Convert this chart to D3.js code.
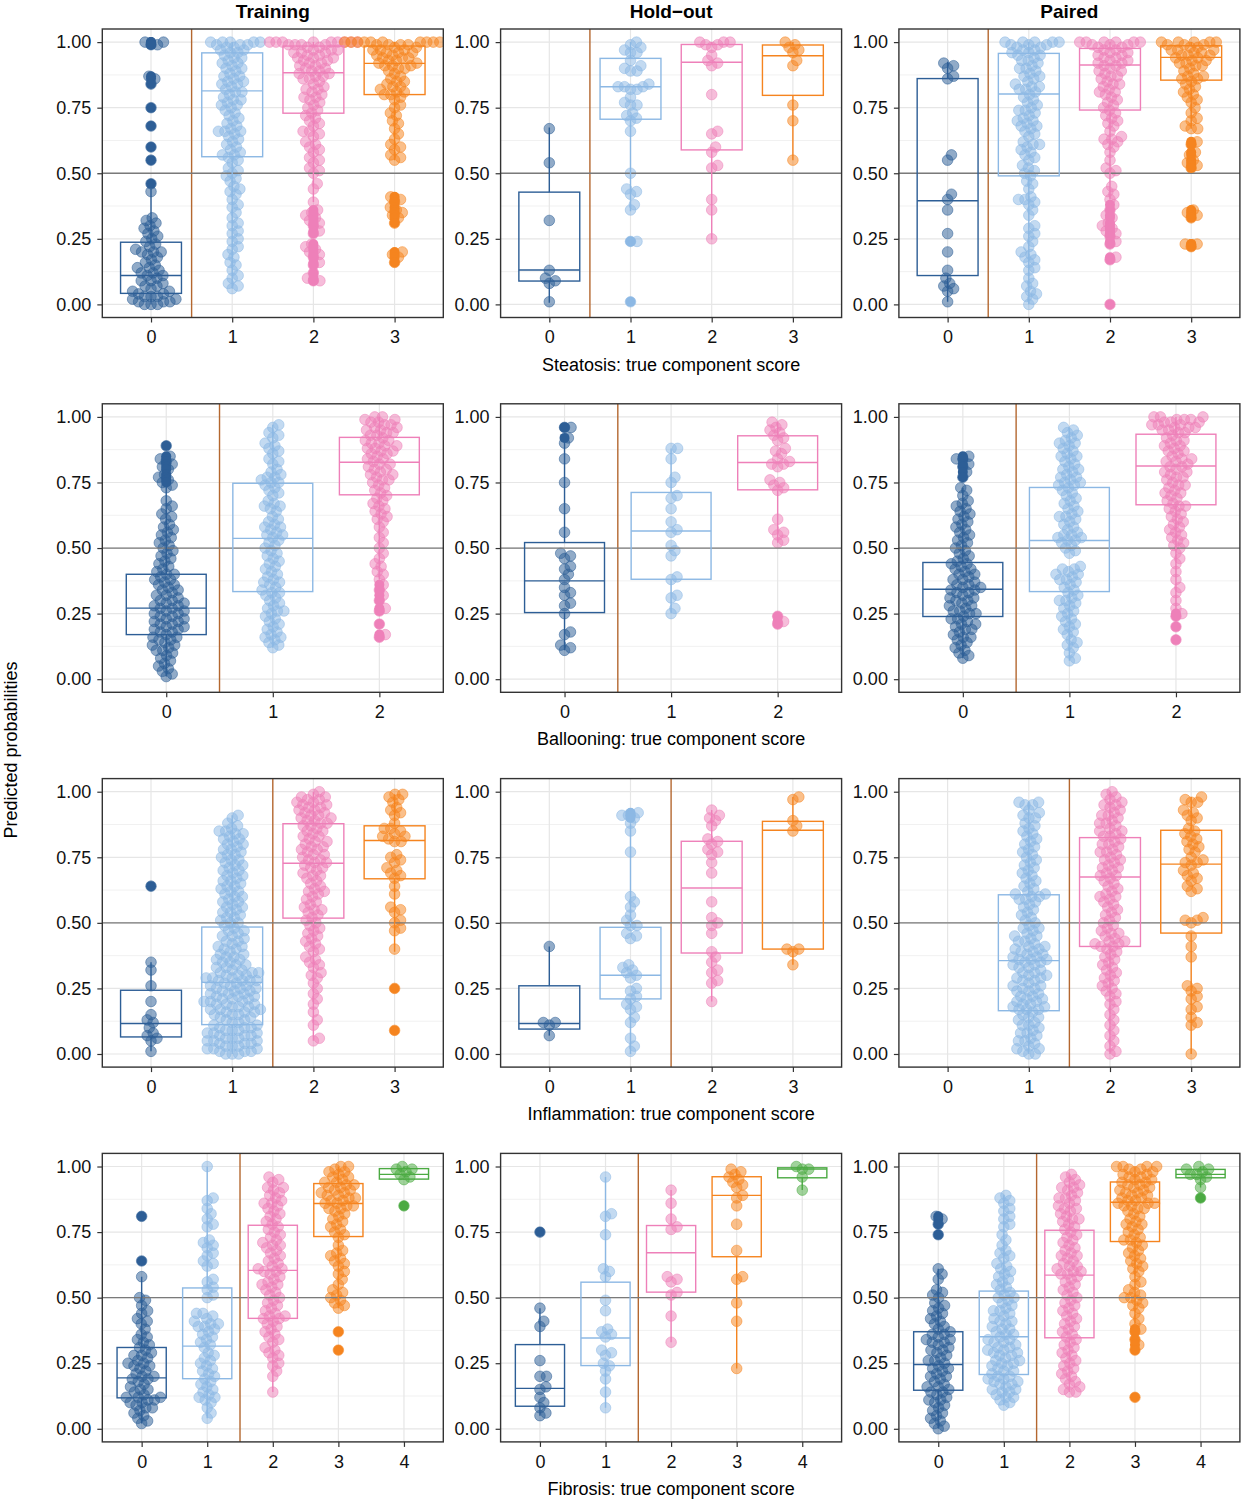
<!DOCTYPE html>
<html><head><meta charset="utf-8">
<script src="https://cdn.jsdelivr.net/npm/d3@7"></script>
<style>body{margin:0;background:#fff}</style>
</head><body>
<svg id="chart" width="1241" height="1500"></svg>
<script>
// ---------- DATA (predicted probabilities, in hundredths) ----------
const rowTitles = ["Steatosis: true component score","Ballooning: true component score","Inflammation: true component score","Fibrosis: true component score"];
const colTitles = ["Training","Hold\u2212out","Paired"];
const rowCats = [["0","1","2","3"],["0","1","2"],["0","1","2","3"],["0","1","2","3","4"]];
const rowSep = [0.5,0.5,1.5,1.5];
const yTicks = [0,0.25,0.5,0.75,1];
const yMinor = [0.125,0.375,0.625,0.875];

// Steatosis
const steatTrain0 = [100,100,99,99,87,86,84,75,68,60,55,46,43,33,32,31,30,29,28,27,26,25,24,23,22,21,20,20,20,19,18,17,16,15,14,14,13,12,12,11,11,10,9,9,8,7,7,6,5,5,4,4,3,3,3,2,2,1,1,1,0,0,0];
const steatTrain1 = [100,100,100,100,100,99,99,99,98,98,97,97,96,96,95,94,94,93,92,92,91,90,90,89,88,87,87,86,85,85,84,84,83,82,81,81,80,79,78,78,77,76,76,75,74,73,72,71,70,69,68,67,66,66,66,65,64,63,62,61,60,59,58,57,57,56,55,54,52,51,50,49,48,47,45,44,43,42,40,38,37,35,33,31,30,28,27,25,24,22,21,19,18,16,15,13,11,10,8,7,6];
const steatTrain2 = [100,100,100,100,100,100,100,100,100,99,99,99,99,98,98,97,97,97,96,96,96,95,95,94,94,94,93,93,92,92,91,91,90,90,89,89,88,88,87,87,86,86,85,84,83,82,82,81,80,79,79,78,77,76,75,74,73,72,71,70,69,68,66,66,65,64,62,61,60,59,58,56,55,54,52,51,50,46,44,39,36,35,34,33,32,31,30,28,27,23,22,21,20,19,18,16,15,12,10,9,9];
const steatTrain3 = [100,100,100,100,100,100,100,100,100,100,99,99,99,99,98,98,97,97,97,96,96,96,95,95,94,94,94,93,93,92,92,91,91,91,90,90,89,88,87,86,85,85,84,83,83,82,81,81,80,80,79,78,76,75,73,72,70,69,67,65,63,61,60,59,57,56,55,41,40,39,37,36,35,34,33,31,20,19,18,16];
const steatHold0 = [67,54,32,13,10,9,8,1];
const steatHold1 = [100,99,98,97,96,96,93,91,90,89,89,84,83,83,83,82,82,79,77,76,76,73,72,71,70,66,50,44,43,42,38,36,24,24,1];
const steatHold2 = [100,100,100,99,99,98,95,93,92,91,80,66,65,60,58,53,52,40,36,25];
const steatHold3 = [100,99,98,97,96,93,91,76,70,55];
const steatPair0 = [92,91,90,87,86,57,55,42,40,36,27,20,13,10,8,7,6,5,1];
const steatPair1 = [100,100,100,100,100,99,99,99,98,98,97,97,96,96,95,95,94,93,93,92,91,90,90,89,88,87,87,86,85,84,83,83,82,82,81,80,79,78,77,76,75,74,74,73,72,71,70,70,69,68,68,67,66,65,64,62,61,61,60,59,58,57,56,55,53,52,51,50,49,47,46,44,41,40,40,39,38,36,34,30,29,27,26,24,22,20,19,18,17,16,14,13,10,8,7,5,4,3,2,0];
const steatPair2 = [100,100,100,100,100,100,99,99,99,98,98,97,97,96,96,95,95,94,94,93,93,92,92,91,91,90,89,89,88,87,87,86,85,84,84,83,82,81,81,80,79,78,77,76,75,74,73,72,71,70,69,68,66,64,63,63,62,61,60,58,55,52,51,50,45,43,42,40,38,36,34,33,31,30,29,28,27,26,24,23,18,17,0];
const steatPair3 = [100,100,100,100,100,99,99,99,98,98,97,97,97,96,96,95,95,95,94,94,93,93,92,92,91,91,90,89,88,87,87,86,86,85,84,83,82,81,80,79,78,77,75,73,71,70,68,67,67,62,61,58,57,55,54,53,52,36,35,34,33,23,23,22];
// Ballooning
const ballTrain0 = [89,85,84,83,82,81,80,78,77,76,75,74,73,68,66,65,63,62,61,59,58,57,56,55,54,53,52,51,50,49,48,47,46,45,44,43,42,41,40,40,39,38,38,37,36,36,35,34,34,33,32,32,31,30,30,29,29,28,28,27,27,26,26,25,25,24,24,23,23,22,22,21,21,20,20,19,19,18,18,17,16,16,15,15,14,13,13,12,11,11,10,9,8,7,6,5,4,3,2,1];
const ballTrain1 = [97,96,94,93,92,90,89,88,87,86,84,83,82,80,79,78,77,77,76,75,75,74,73,72,71,70,68,67,66,66,65,64,62,61,60,59,58,58,57,56,55,55,54,53,52,51,50,49,48,47,46,45,44,43,42,41,40,39,38,37,37,36,35,34,33,33,32,31,30,29,28,27,26,26,25,24,23,22,21,20,19,18,17,16,16,15,14,13,12];
const ballTrain2 = [100,100,99,99,98,98,97,97,96,96,95,95,94,94,93,93,92,91,91,90,90,89,89,88,88,87,87,86,86,85,84,84,83,82,82,81,80,80,79,78,78,77,76,76,75,74,73,72,71,70,69,68,67,66,65,64,63,62,61,60,58,56,54,52,50,48,46,44,43,41,40,38,36,34,32,30,27,26,21,17,16];
const ballHold0 = [96,96,92,90,84,75,65,56,48,47,46,43,42,40,38,35,33,32,29,28,25,18,17,13,12,11];
const ballHold1 = [88,88,84,77,75,70,69,65,60,57,56,51,49,47,39,38,32,31,27,25];
const ballHold2 = [98,97,96,95,94,93,92,91,88,87,86,84,83,82,82,81,76,75,74,73,72,61,57,56,55,53,52,24,22,21];
const ballPair0 = [85,84,84,82,81,79,77,73,72,70,68,67,66,65,64,63,62,61,60,59,58,57,56,55,54,53,52,51,50,49,48,47,46,45,44,44,43,42,42,41,40,40,39,38,38,37,36,36,35,35,34,34,33,33,32,31,31,30,30,29,28,28,27,26,26,25,25,24,23,23,22,21,21,20,19,19,18,17,16,16,15,14,13,12,11,10,9,8];
const ballPair1 = [96,95,94,93,92,91,90,90,89,88,87,86,85,85,84,83,82,81,80,80,79,78,77,77,76,75,75,74,74,73,72,71,70,69,68,67,66,65,64,63,62,62,61,60,59,58,57,56,55,55,54,54,53,53,52,51,50,49,48,43,42,42,41,40,40,39,38,38,37,36,35,34,33,32,31,30,30,29,28,27,26,25,24,23,22,21,20,19,18,17,15,14,13,12,10,8,7];
const ballPair2 = [100,100,100,99,99,99,98,98,98,97,97,97,96,96,96,95,95,94,94,93,92,91,91,90,89,89,88,87,87,86,85,84,84,83,83,82,81,81,80,79,79,78,77,77,76,75,74,74,73,72,71,71,70,69,68,67,66,66,65,64,63,62,61,60,59,58,57,56,55,54,53,52,51,50,48,46,44,41,38,35,33,30,27,25,24,20,15];
// Inflammation
const inflTrain0 = [64,35,32,26,20,15,13,12,10,8,7,6,5,1];
const inflTrain1 = [91,90,88,87,86,85,85,84,84,83,82,82,81,80,80,79,78,78,77,76,76,75,74,74,73,72,72,71,70,70,69,68,68,67,66,66,65,64,64,63,62,62,61,60,60,59,58,58,57,56,56,55,54,54,53,52,52,51,50,50,49,48,47,47,46,45,45,44,43,43,42,41,41,40,40,39,38,38,37,37,36,36,35,35,34,34,33,33,32,32,31,31,31,30,30,30,29,29,29,28,28,28,28,27,27,26,26,26,25,25,25,24,24,24,23,23,23,22,22,22,21,21,21,20,20,20,19,19,19,18,18,18,17,17,17,16,16,16,15,15,15,14,14,13,13,12,12,11,11,10,10,10,9,9,9,8,8,8,7,7,7,6,6,6,5,5,5,4,4,4,3,3,3,2,2,2,1,1,1,0,0,0];
const inflTrain2 = [100,99,98,98,97,97,96,96,95,95,94,94,93,93,92,92,91,91,90,90,89,89,88,88,87,87,86,85,85,84,83,83,82,81,81,80,79,79,78,78,77,76,76,75,74,74,73,73,72,71,71,70,69,68,68,67,66,65,64,63,62,62,61,60,59,58,57,56,55,55,54,53,52,51,50,49,48,47,46,45,44,43,42,41,40,39,37,36,35,34,33,31,30,29,27,25,23,21,19,16,13,11,6,5];
const inflTrain3 = [99,99,98,97,96,94,93,92,91,88,86,86,85,84,83,83,82,81,81,76,75,74,73,71,70,69,68,67,64,61,56,55,54,51,50,48,47,40,25,9];
const inflHold0 = [41,12,12,11,7];
const inflHold1 = [92,91,91,90,88,85,77,60,58,56,53,51,49,49,46,45,44,34,33,32,31,30,29,25,24,22,21,19,18,17,14,12,6,3,1];
const inflHold2 = [93,91,90,89,87,82,81,80,78,77,76,73,69,58,52,50,49,46,39,37,35,32,31,28,27,20];
const inflHold3 = [98,97,89,87,85,40,40,39,34];
const inflPair0 = [];
const inflPair1 = [96,96,95,95,93,92,91,90,90,88,87,86,85,84,83,82,81,80,79,78,77,76,75,74,73,72,71,70,69,68,67,66,65,64,63,62,61,61,60,60,59,59,58,57,56,55,54,53,52,51,50,49,48,48,47,46,45,45,44,43,43,42,41,41,40,40,39,39,38,38,37,37,36,36,36,35,35,34,34,33,33,32,31,31,30,30,29,29,28,28,27,26,26,25,25,24,24,23,22,22,21,21,20,20,19,19,18,18,17,17,17,16,15,14,14,13,12,11,11,10,9,8,8,7,6,5,5,4,3,2,2,1,0,0];
const inflPair2 = [100,99,98,97,96,95,95,94,93,92,91,91,90,89,88,88,87,86,85,85,84,83,83,82,81,80,80,79,78,77,77,76,75,74,74,73,72,71,71,70,69,68,68,67,66,65,64,63,62,61,60,60,59,58,57,56,55,54,53,52,51,50,49,48,47,46,46,45,44,43,43,42,42,41,41,40,39,38,37,36,35,34,33,32,31,30,29,28,27,26,25,24,23,22,20,19,17,15,13,11,9,7,5,3,1,0];
const inflPair3 = [98,97,96,96,93,92,91,90,89,86,85,84,83,82,81,80,79,78,77,75,74,73,73,72,70,69,68,67,66,64,63,62,52,51,51,50,45,41,37,26,25,24,22,21,18,17,14,12,11,0];
// Fibrosis
const fibTrain0 = [81,64,58,50,49,47,45,44,42,41,40,38,36,35,34,33,32,31,30,29,28,28,27,26,25,25,24,24,23,22,21,20,20,19,19,18,17,16,15,15,14,13,12,12,12,11,11,10,10,9,8,8,7,6,5,4,3,2];
const fibTrain1 = [100,88,87,84,82,80,78,77,72,71,70,69,67,66,64,63,62,57,56,54,53,51,50,44,44,43,42,41,40,40,39,39,38,37,36,35,34,33,32,31,29,28,27,26,25,24,23,22,21,20,19,18,17,16,15,14,13,12,12,11,10,8,6,4];
const fibTrain2 = [96,95,94,92,92,91,90,89,88,87,86,86,85,84,83,82,81,80,79,78,77,76,75,74,73,72,71,70,70,69,68,67,66,65,64,63,62,61,61,60,60,59,58,57,56,55,55,54,53,52,51,50,49,48,47,46,45,44,43,43,42,42,41,40,39,38,37,36,35,34,33,31,30,29,28,27,25,24,22,20,14];
const fibTrain3 = [100,100,99,98,98,97,96,96,95,94,94,93,93,92,92,91,91,90,90,89,89,88,88,87,87,86,86,85,85,84,84,83,82,81,80,79,78,77,76,75,74,73,70,68,67,66,65,64,63,62,60,59,57,55,53,52,51,50,49,48,47,46,37,30];
const fibTrain4 = [100,99,99,98,97,96,95,85];
const fibHold0 = [75,46,41,39,26,20,20,16,15,12,10,8,6,5];
const fibHold1 = [96,82,81,74,61,60,58,49,45,38,37,36,35,30,29,28,25,24,22,19,14,8];
const fibHold2 = [91,86,80,77,76,58,57,56,52,51,43,33];
const fibHold3 = [99,98,97,96,95,94,93,92,89,88,85,78,68,58,57,48,41,23];
const fibHold4 = [100,99,99,96,91];
const fibPair0 = [81,80,78,74,61,59,57,53,52,51,50,48,47,46,45,44,43,42,41,40,39,38,37,36,36,35,34,34,33,33,32,31,30,30,29,28,27,26,26,25,24,23,23,22,21,20,20,19,18,17,16,16,15,14,14,13,12,11,11,10,9,8,7,6,5,4,3,2,1,0];
const fibPair1 = [89,88,87,86,84,83,81,80,78,77,74,72,70,68,67,66,65,63,62,61,60,59,58,57,56,55,54,53,52,51,50,50,49,48,47,46,45,45,44,43,42,41,41,40,39,38,38,37,36,36,35,34,34,33,33,32,31,31,30,30,29,29,28,28,27,26,26,25,25,24,24,23,22,22,21,20,20,19,19,18,18,17,17,16,15,15,14,14,13,12,12,11,10,9];
const fibPair2 = [97,96,95,94,93,92,92,91,90,89,88,88,87,86,85,84,84,83,82,81,80,80,79,78,77,76,75,74,73,72,71,70,69,68,67,66,66,65,64,63,62,62,61,60,60,59,59,58,57,56,55,54,53,52,51,50,49,48,47,46,45,44,43,42,41,40,39,38,37,36,35,34,33,32,31,30,29,28,27,26,25,24,23,22,21,20,19,18,17,16,15,14,14];
const fibPair3 = [100,100,100,100,99,99,98,98,97,97,96,96,95,95,94,94,93,93,92,92,91,91,90,90,89,89,88,88,87,87,86,86,86,85,85,84,84,83,82,81,80,79,78,78,77,76,75,74,73,72,72,71,70,69,68,67,66,65,64,63,62,61,60,58,56,55,53,52,51,50,50,49,48,47,46,44,42,40,38,37,34,32,30,12];
const fibPair4 = [100,99,99,98,97,97,96,95,92,88];

// Box statistics: [lower whisker, Q1, median, Q3, upper whisker]
const steatTrainBox = [[0.00,0.042,0.11,0.237,0.44],[0.06,0.563,0.814,0.959,1.0],[0.39,0.729,0.883,0.985,1.0],[0.55,0.80,0.919,0.985,1.0]];
const steatHoldBox = [[0.006,0.089,0.131,0.428,0.674],[0.355,0.706,0.830,0.938,1.0],[0.247,0.589,0.923,0.991,1.0],[0.55,0.797,0.948,0.989,1.0]];
const steatPairBox = [[0.01,0.11,0.395,0.861,0.925],[0.0,0.49,0.802,0.957,1.0],[0.40,0.741,0.913,0.976,1.0],[0.67,0.855,0.942,0.986,1.0]];
const ballTrainBox = [[0.01,0.170,0.271,0.400,0.74],[0.12,0.334,0.537,0.747,0.97],[0.38,0.703,0.827,0.922,1.0]];
const ballHoldBox = [[0.11,0.254,0.375,0.521,0.918],[0.25,0.381,0.565,0.712,0.88],[0.52,0.722,0.826,0.928,0.98]];
const ballPairBox = [[0.08,0.239,0.343,0.445,0.73],[0.07,0.334,0.529,0.731,0.96],[0.26,0.665,0.813,0.934,1.0]];
const inflTrainBox = [[0.01,0.065,0.116,0.243,0.35],[0.0,0.112,0.273,0.484,0.91],[0.05,0.518,0.727,0.878,1.0],[0.39,0.668,0.814,0.870,0.99]];
const inflHoldBox = [[0.07,0.095,0.116,0.26,0.41],[0.0,0.21,0.30,0.483,0.88],[0.20,0.385,0.633,0.811,0.93],[0.34,0.40,0.853,0.887,0.98]];
const inflPairBox = [null,[0.0,0.165,0.356,0.607,0.96],[0.0,0.41,0.675,0.825,1.0],[0.0,0.461,0.724,0.853,0.98]];
const fibTrainBox = [[0.02,0.118,0.194,0.31,0.58],[0.04,0.191,0.315,0.537,1.0],[0.14,0.421,0.604,0.776,0.96],[0.46,0.733,0.859,0.935,1.0],[0.95,0.952,0.97,0.992,1.0]];
const fibHoldBox = [[0.05,0.086,0.154,0.321,0.46],[0.08,0.241,0.346,0.559,0.96],[0.33,0.521,0.671,0.775,0.91],[0.23,0.656,0.89,0.961,0.99],[0.91,0.957,0.99,0.995,1.0]];
const fibPairBox = [[0.0,0.147,0.245,0.37,0.61],[0.09,0.207,0.351,0.525,0.89],[0.14,0.347,0.586,0.757,0.97],[0.40,0.714,0.864,0.941,1.0],[0.92,0.957,0.97,0.989,1.0]];

const panels = [
  {row:0,col:0,groups:[steatTrain0,steatTrain1,steatTrain2,steatTrain3],boxes:steatTrainBox},
  {row:0,col:1,groups:[steatHold0,steatHold1,steatHold2,steatHold3],boxes:steatHoldBox},
  {row:0,col:2,groups:[steatPair0,steatPair1,steatPair2,steatPair3],boxes:steatPairBox},
  {row:1,col:0,groups:[ballTrain0,ballTrain1,ballTrain2],boxes:ballTrainBox},
  {row:1,col:1,groups:[ballHold0,ballHold1,ballHold2],boxes:ballHoldBox},
  {row:1,col:2,groups:[ballPair0,ballPair1,ballPair2],boxes:ballPairBox},
  {row:2,col:0,groups:[inflTrain0,inflTrain1,inflTrain2,inflTrain3],boxes:inflTrainBox},
  {row:2,col:1,groups:[inflHold0,inflHold1,inflHold2,inflHold3],boxes:inflHoldBox},
  {row:2,col:2,groups:[inflPair0,inflPair1,inflPair2,inflPair3],boxes:inflPairBox},
  {row:3,col:0,groups:[fibTrain0,fibTrain1,fibTrain2,fibTrain3,fibTrain4],boxes:fibTrainBox},
  {row:3,col:1,groups:[fibHold0,fibHold1,fibHold2,fibHold3,fibHold4],boxes:fibHoldBox},
  {row:3,col:2,groups:[fibPair0,fibPair1,fibPair2,fibPair3,fibPair4],boxes:fibPairBox}
];

// ---------- STYLE / LAYOUT ----------
const colors = ["#2D5E96","#8CB8E4","#EE80B9","#F5841F","#4BAA42"];
const FONT = "'Liberation Sans', Arial, Helvetica, sans-serif";
const L0 = 102.3, PW = 341, CS = 398.3, T0 = 29, PH = 288.5, RS = 374.8;
const RAD = 5.3, DIST = 6.5;

const svg = d3.select("#chart");
const defs = svg.append("defs");

// beeswarm layout (x offsets only)
function swarm(ys, d) {
  const order = ys.map((_, i) => i).sort((a, b) => ys[b] - ys[a]);
  const placed = [];
  const xs = new Array(ys.length);
  for (const i of order) {
    const y = ys[i];
    const near = placed.filter(p => Math.abs(p.y - y) < d);
    const cands = [0];
    for (const p of near) {
      const dx = Math.sqrt(d * d - (p.y - y) * (p.y - y));
      cands.push(p.x + dx, p.x - dx);
    }
    cands.sort((a, b) => Math.abs(a) - Math.abs(b));
    let best = 0;
    for (const c of cands) {
      if (near.every(p => (p.x - c) * (p.x - c) + (p.y - y) * (p.y - y) >= d * d - 1e-6)) { best = c; break; }
    }
    xs[i] = best;
    placed.push({x: best, y});
  }
  return xs;
}

panels.forEach((p, pi) => {
  const x0 = L0 + p.col * CS, y0 = T0 + p.row * RS;
  const cats = rowCats[p.row], n = cats.length;
  const x = d3.scaleLinear().domain([-0.6, n - 0.4]).range([x0, x0 + PW]);
  const y = d3.scaleLinear().domain([-0.05, 1.05]).range([y0 + PH, y0]);
  const cid = "clip" + pi;
  defs.append("clipPath").attr("id", cid).append("rect")
    .attr("x", x0).attr("y", y0).attr("width", PW).attr("height", PH);
  const g = svg.append("g");
  const inner = g.append("g").attr("clip-path", `url(#${cid})`);

  inner.selectAll(".mn").data(yMinor).join("line")
    .attr("x1", x0).attr("x2", x0 + PW).attr("y1", d => y(d)).attr("y2", d => y(d))
    .attr("stroke", "#EFEFEF").attr("stroke-width", 0.9);
  inner.selectAll(".mj").data(yTicks).join("line")
    .attr("x1", x0).attr("x2", x0 + PW).attr("y1", d => y(d)).attr("y2", d => y(d))
    .attr("stroke", "#E6E6E6").attr("stroke-width", 1.2);
  inner.selectAll(".vg").data(d3.range(n)).join("line")
    .attr("x1", d => x(d)).attr("x2", d => x(d)).attr("y1", y0).attr("y2", y0 + PH)
    .attr("stroke", "#E6E6E6").attr("stroke-width", 1.2);

  inner.append("line").attr("x1", x(rowSep[p.row])).attr("x2", x(rowSep[p.row]))
    .attr("y1", y0).attr("y2", y0 + PH).attr("stroke", "#B4672F").attr("stroke-width", 1.4);

  p.groups.forEach((vals, k) => {
    const ys = vals.map(v => y(v / 100));
    const xs = swarm(ys, DIST);
    inner.append("g").selectAll("circle").data(vals.map((v, i) => ({cx: x(k) + xs[i], cy: ys[i]})))
      .join("circle").attr("cx", d => d.cx).attr("cy", d => d.cy).attr("r", RAD)
      .attr("fill", colors[k]).attr("fill-opacity", 0.52)
      .attr("stroke", colors[k]).attr("stroke-opacity", 0.52).attr("stroke-width", 1);
  });

  inner.append("line").attr("x1", x0).attr("x2", x0 + PW).attr("y1", y(0.5)).attr("y2", y(0.5))
    .attr("stroke", "#7A7A7A").attr("stroke-width", 1.3);

  p.groups.forEach((vals, k) => {
    const b = p.boxes[k];
    if (!b) return;
    const bg = inner.append("g").attr("stroke", colors[k]).attr("fill", "none").attr("stroke-width", 1.4);
    bg.append("line").attr("x1", x(k)).attr("x2", x(k)).attr("y1", y(b[3])).attr("y2", y(b[4]));
    bg.append("line").attr("x1", x(k)).attr("x2", x(k)).attr("y1", y(b[1])).attr("y2", y(b[0]));
    bg.append("rect").attr("x", x(k - 0.375)).attr("width", x(k + 0.375) - x(k - 0.375))
      .attr("y", y(b[3])).attr("height", y(b[1]) - y(b[3]));
    bg.append("line").attr("x1", x(k - 0.375)).attr("x2", x(k + 0.375)).attr("y1", y(b[2])).attr("y2", y(b[2]));
    const outs = vals.filter(v => v / 100 < b[0] - 1e-9 || v / 100 > b[4] + 1e-9);
    inner.append("g").selectAll("circle").data(outs).join("circle")
      .attr("cx", x(k)).attr("cy", v => y(v / 100)).attr("r", RAD - 0.3)
      .attr("fill", colors[k]);
  });

  g.append("rect").attr("x", x0).attr("y", y0).attr("width", PW).attr("height", PH)
    .attr("fill", "none").attr("stroke", "#333").attr("stroke-width", 1.4);

  const ya = g.append("g").attr("transform", `translate(${x0},0)`)
    .call(d3.axisLeft(y).tickValues(yTicks).tickFormat(d3.format(".2f")).tickSize(5).tickPadding(6));
  const xa = g.append("g").attr("transform", `translate(0,${y0 + PH})`)
    .call(d3.axisBottom(x).tickValues(d3.range(n)).tickFormat(i => cats[i]).tickSize(5).tickPadding(8));
  [ya, xa].forEach(a => {
    a.select(".domain").remove();
    a.selectAll(".tick line").attr("stroke", "#333").attr("stroke-width", 1.2);
    a.selectAll(".tick text").attr("fill", "#111").style("font-family", FONT).style("font-size", "18px");
  });

  if (p.row === 0) {
    svg.append("text").attr("x", x0 + PW / 2).attr("y", 18).attr("text-anchor", "middle")
      .style("font-family", FONT).style("font-size", "19px").style("font-weight", "bold")
      .attr("fill", "#000").text(colTitles[p.col]);
  }
  if (p.col === 1) {
    svg.append("text").attr("x", L0 + (2 * CS + PW) / 2).attr("y", y0 + PH + 53).attr("text-anchor", "middle")
      .style("font-family", FONT).style("font-size", "18px").attr("fill", "#000").text(rowTitles[p.row]);
  }
});

svg.append("text").attr("transform", "translate(17,750) rotate(-90)").attr("text-anchor", "middle")
  .style("font-family", FONT).style("font-size", "18px").attr("fill", "#000").text("Predicted probabilities");
</script>
</body></html>
